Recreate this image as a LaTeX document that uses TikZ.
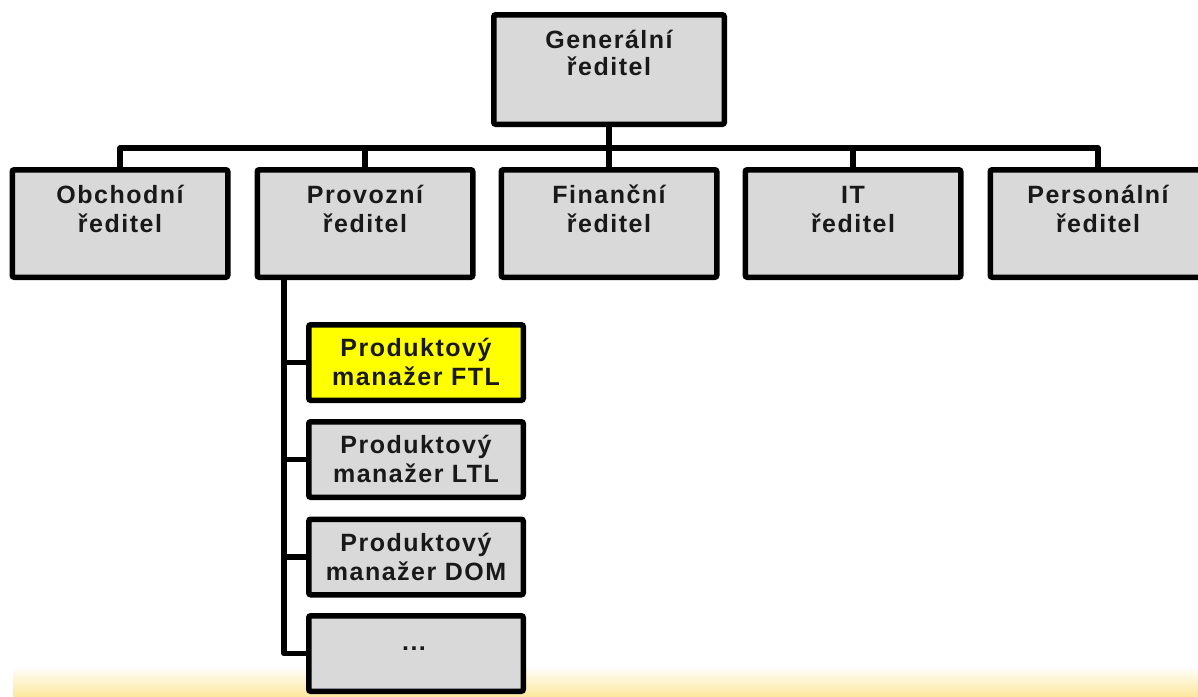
\documentclass[tikz,border=0pt]{standalone}
\usepackage{fontspec}
\newfontfamily\orgfont[LetterSpace=6]{Liberation Sans}
\definecolor{boxgray}{RGB}{217,217,217}
\definecolor{hilite}{RGB}{255,255,0}
\definecolor{bandyellow}{RGB}{252,232,160}
\begin{document}
\begin{tikzpicture}[x=1pt, y=-1pt,
  box/.style={draw=black, line width=5.5pt, fill=boxgray, rounded corners=2pt, inner sep=0pt},
  topbox/.style={box, minimum width=230.5pt, minimum height=109.5pt},
  dirbox/.style={box, minimum width=215.5pt, minimum height=107.5pt},
  mgrbox/.style={box, minimum width=214.5pt, minimum height=75.5pt},
  % labels are placed by the baseline of their last line
  lbl/.style={anchor=base, align=center, inner sep=0pt, text=black!90,
    font=\orgfont\bfseries\fontsize{25}{29}\selectfont},
  conn/.style={draw=black, line width=5.5pt, line join=round}
]
\useasboundingbox (0,0) rectangle (1198,696);

% soft yellow band along the bottom
\shade[top color=white, bottom color=bandyellow] (13,666) rectangle (1198,696);

% general director
\node[topbox] (gen) at (609,69.5) {};
\node[lbl, font=\orgfont\bfseries\fontsize{25}{27}\selectfont] (genT) at (609,75) {Generální\\ředitel};

% directors
\node[dirbox] (obch) at (120,223.5) {};
\node[dirbox] (prov) at (365,223.5) {};
\node[dirbox] (fin)  at (609,223.5) {};
\node[dirbox] (it)   at (853,223.5) {};
\node[dirbox] (pers) at (1098,223.5) {};
\node[lbl] (obchT) at (120,232) {Obchodní\\ředitel};
\node[lbl] (provT) at (365,232) {Provozní\\ředitel};
\node[lbl] (finT)  at (609,232) {Finanční\\ředitel};
\node[lbl] (itT)   at (853,232) {IT\\ředitel};
\node[lbl] (persT) at (1098,232) {Personální\\ředitel};

% product managers
\node[mgrbox, fill=hilite] (ftl) at (416,362.5) {};
\node[mgrbox] (ltl) at (416,459.5) {};
\node[mgrbox] (dom) at (416,557) {};
\node[mgrbox] (more) at (416,653.5) {};
\node[lbl] (ftlT) at (416,385) {Produktový\\manažer FTL};
\node[lbl] (ltlT) at (416,482) {Produktový\\manažer LTL};
\node[lbl] (domT) at (416,580) {Produktový\\manažer DOM};
\node[lbl] (moreT) at (414,650) {...};

% connectors: top level
\coordinate (bar) at (609,148);
\coordinate (spine) at (284,280);
\draw[conn] (gen.south) -- (fin.north);
\draw[conn] (obch.north) |- (bar) -| (pers.north);
\draw[conn] (prov.north) -- (prov.north |- bar);
\draw[conn] (it.north) -- (it.north |- bar);

% connectors: operations branch
\draw[conn] (prov.south -| spine) |- (more.west);
\draw[conn] (spine |- ftl.west) -- (ftl.west);
\draw[conn] (spine |- ltl.west) -- (ltl.west);
\draw[conn] (spine |- dom.west) -- (dom.west);
\end{tikzpicture}
\end{document}
